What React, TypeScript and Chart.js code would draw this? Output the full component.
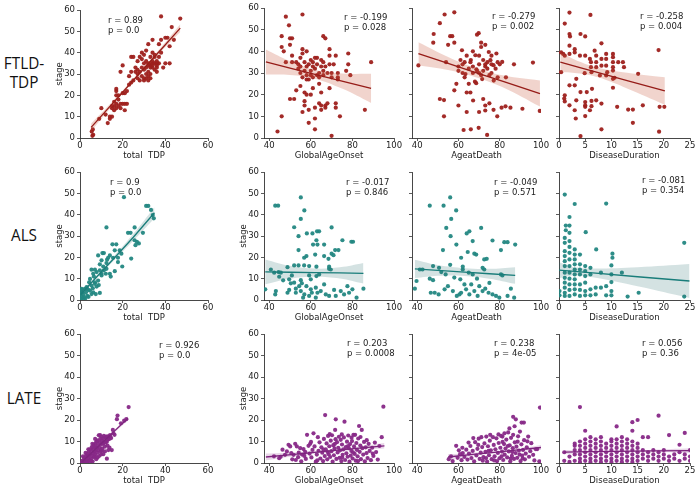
import React, { useEffect, useRef } from "react";
import { Chart, registerables } from "chart.js";

Chart.register(...registerables);

type Pt = [number, number];

// ---------------- DATA ----------------
const rowLabels = [["FTLD-", "TDP"], ["ALS"], ["LATE"]];
const xTitles = ["total  TDP", "GlobalAgeOnset", "AgeatDeath", "DiseaseDuration"];
const yTicks = [0, 10, 20, 30, 40, 50, 60];
const xTicksTDP = [0, 20, 40, 60];
const xTicksAge = [40, 60, 80, 100];
const xTicksDur = [0, 5, 10, 15, 20, 25];

const rValues = [
  ["0.89", "-0.199", "-0.279", "-0.258"],
  ["0.9", "-0.017", "-0.049", "-0.081"],
  ["0.926", "0.203", "0.238", "0.056"],
];
const pValues = [
  ["0.0", "0.028", "0.002", "0.004"],
  ["0.0", "0.846", "0.571", "0.354"],
  ["0.0", "0.0008", "4e-05", "0.36"],
];

// FTLD-TDP
const ftldTDP: Pt[] = [[5.5,3],[6,4],[5.8,1],[6.2,1.5],[9,9],[10,14],[12,11],[13,7],[14,9],[14,10],[15,10],[15,14],[15,15],[16,13],[16,15],[16,17],[17,16],[17,14],[18,15],[17,20],[17,22],[17,23],[18,20],[18,18],[19,14],[19,16],[20,16],[20,21],[21,21],[21,13],[21,16],[22,16],[19,31],[20,34],[22,22],[23,25],[23,29],[24,26],[24,31],[24,38],[25,38],[25,27],[26,31],[26,33],[27,30],[27,32],[27,36],[28,31],[28,27],[28,38],[29,29],[29,33],[29,37],[29,40],[30,27],[30,32],[30,35],[30,39],[31,28],[31,30],[31,33],[31,36],[31,41],[32,29],[32,31],[32,34],[32,35],[32,27],[33,30],[33,34],[33,35],[33,38],[33,28],[34,33],[34,34],[34,36],[34,40],[34,46],[35,32],[35,35],[35,38],[35,39],[36,33],[36,35],[36,34],[36,31],[37,38],[37,35],[37,44],[38,57],[38,40],[38,46],[39,33],[40,35],[40,47],[41,47],[42,35],[42,43],[44,46],[43,52],[47,56],[34,35],[36,36],[30,28],[27,28],[32,44],[33,33]];
const ftldOnset: Pt[] = [[44,3],[46,10],[46,47],[46,42],[47,40],[48,56],[48,35],[49.5,52],[50,46],[51,46],[50,43],[50,18],[51,38],[51,35],[52,18],[53,22],[53,35],[54,34],[54,32],[55,30],[55,24],[55,33],[55,37],[56,57],[56,12],[56,41],[56,39],[56,28],[57,21],[57,17],[57,15],[57,35],[57,31],[58,40],[58,33],[58,27],[58,20],[59,27],[59,13],[59,7],[59,34],[60,31],[60,36],[60,29],[60,20],[61,33],[61,35],[61,23],[62,37],[62,14],[62,9],[62,4],[62,32],[63,34],[63,37],[63,29],[64,25],[64,16],[64,30],[65,33],[65,15],[65,13],[65,21],[65,36],[66,47],[66,29],[66,35],[67,46],[67,15],[67,14],[67,33],[68,16],[68,30],[69,38],[69,41],[69,34],[69,23],[70,30],[70,1],[70,28],[71,34],[72,38],[72,14],[72,16],[73,30],[73,28],[73,27],[74,10],[77,31],[78,39],[78,34],[79,29],[86,13],[89,35],[64,28],[61,28],[66,31],[58,29]];
const ftldDeath: Pt[] = [[40.6,33.5],[47.8,44],[48,48],[51,53],[53.3,57],[51,18],[53,17.5],[53,10],[55,43],[56,47],[57,47],[54,35],[58,58],[58,22],[59,25],[58,44],[60,15],[60,33],[61,36],[61.7,40.5],[62.5,3.7],[62,30],[63,28],[63,35],[63.4,29.5],[64,38],[64,12],[64,21],[65,32],[65.8,35],[66,4],[65.8,21],[67,33],[67.1,17.3],[67,40],[67,30],[68.2,38.2],[68.6,25.3],[68.7,31.7],[69,47.7],[69.8,48.4],[69.8,4.7],[70,12],[70,34],[70,38],[71,42],[71.5,27.2],[71,29],[72,31],[72,18],[73,15],[73,12.7],[73,33],[73.9,1.4],[74.7,39.7],[74,35],[75,29],[75.5,35.9],[75,16],[76,38],[76,30],[77,33.6],[77.1,26.5],[77,13],[78.4,39],[78.8,10],[78,32],[79,35],[80,34],[80.9,14],[81.2,35.1],[82.8,14.6],[83,28],[85.2,14],[86.9,34],[91,13.5],[96.1,34.8],[99.4,12.5],[71,44],[73,43],[76,34],[79,28],[68,26],[66,36],[62,34],[60,31],[65,25],[73,34],[69,31],[72,36],[74,32],[70,30]];
const ftldDuration: Pt[] = [[2,57.9],[6,56.8],[1.1,52.8],[2,48],[2.1,46.9],[4.1,48],[5,46.9],[8.1,43.7],[0.4,39.5],[0.8,38.8],[1.1,38],[2,42.6],[2,38.8],[3,41],[3,39.5],[4,38],[5,38],[5.9,36.5],[6.1,35],[6.1,32.7],[6.2,30.4],[6.8,40.3],[7.1,38],[7.1,35],[7.1,32.7],[8.1,36.5],[8.1,33.4],[9,38.8],[9,36.5],[9,33.4],[9.2,30.4],[10.3,38.8],[10.3,37.3],[10.3,35],[10.3,32.7],[10.3,31.1],[10.3,27.3],[11.3,35],[12.2,35],[12.4,32.7],[15.1,29.6],[7.8,28.9],[9,28.9],[10.6,27.8],[4.9,29.9],[3.3,27.3],[3,24.3],[0.4,30.4],[2,24.3],[4.1,21.2],[5.3,21.2],[6.3,22.7],[1,18.2],[1.1,16.9],[2,15.1],[3.3,17.4],[5,16.6],[5,14.4],[5,15.1],[6.2,17.1],[6.2,14.7],[7.1,17.4],[8.1,15.9],[10.3,23.2],[11.1,14.4],[13.2,13.1],[14.1,13.1],[16,15.1],[19,40.6],[19.2,14.4],[20.1,14.4],[14.1,7],[19.1,2.9],[3,12.8],[5,10.1],[5.9,12.8],[3.2,9],[8.1,4],[4.1,0.9],[1.1,19.7]];

// ALS
const alsTDP: Pt[] = [[20.6,48.2],[31,44.1],[32,44.1],[33.3,42.2],[34.6,38.3],[34.1,39.8],[12.4,34],[25.6,34],[22.5,31.5],[23.7,31.5],[29.5,31.5],[15.2,26.1],[17,26.1],[25.6,28],[26.7,27.2],[27.6,26.5],[26,25.7],[8.5,20.9],[10.5,22],[11.2,22],[18.6,23.3],[16.3,23.3],[14,20.9],[13.2,19.8],[15.5,19.8],[17.8,19.8],[24,19.4],[19.8,15.7],[12.7,18.9],[12.4,17.3],[10.9,15.7],[9.3,16.7],[7,14.2],[5.4,14.2],[7.8,13.1],[9.3,13.9],[10.1,12.3],[12.1,12.3],[14,12.3],[14.4,11],[16.3,13.5],[6.5,11],[4.7,9.9],[7,8.3],[4.3,8.3],[5.4,6.8],[7.8,6.3],[3.1,6],[2.3,5.2],[0.8,5.2],[1.2,3.6],[2.8,3.6],[4.7,4.4],[6.2,3.6],[7.4,2.8],[9.3,3.3],[0,2.8],[0.8,1.6],[1.9,1.3],[3.4,2],[0,0.9],[1.6,0.5],[3.9,4.7],[7,7.6],[8.5,9.1],[10.1,11.5],[11.2,13.9],[12.4,14.6],[6.2,12.3],[3.1,5.2],[0.8,4.7],[0.3,3.6],[5.4,2.8],[10.1,18.6],[17.8,17.8],[19.4,21.7],[0.5,0.3],[2.5,0.8],[4,1.5],[1.5,2.5],[6,5.5],[8.8,7]];
const alsOnset: Pt[] = [[42.9,44.2],[44.3,44.2],[55.2,48.1],[56.9,42],[55.2,38],[52,34.1],[54.1,29.9],[58.1,31.2],[60.8,31.2],[63,32.2],[64,32.2],[70,34],[62.7,28],[63.2,26],[61.1,26],[66.4,26],[54.1,23.4],[56.8,19.8],[57.9,20.6],[62.1,21.3],[66.4,20.6],[68.5,19.3],[70.9,21],[71.7,23.4],[73.3,23.4],[75.2,28],[79.5,27.3],[80.3,27.3],[70,21.7],[48.8,15.4],[52,16.2],[54.1,16.2],[56.8,16.2],[59.2,15.9],[62.7,15.6],[68.8,15.6],[69.6,14.3],[68.8,14.6],[40.8,14.3],[42.4,12.8],[44.5,13.1],[45.6,12.8],[44.8,10.9],[49.6,9.7],[50.4,7.8],[52,8.1],[55.2,9.3],[55.7,7.8],[59.2,11.5],[60,9.7],[62.7,11.2],[64,12],[52.8,5.3],[54.4,6.5],[57.9,6.5],[60,5],[62.4,5.8],[66.4,7.3],[55.2,4.2],[56.9,2.6],[59.2,1.9],[60.5,3.4],[63.2,3.4],[64.8,4.2],[67.2,2.6],[68.8,1.9],[72,1.9],[74.4,4.2],[76,2.6],[78.4,3.4],[80,5],[82,1.1],[85.3,5.3],[38.1,5],[42.9,2.6],[43.2,4.2],[48.8,3.4],[52.8,3.4],[56.3,1.1],[62.4,1.1],[49.6,4.7],[71.2,4.7],[50.9,11.5],[46.7,9.2],[77.6,6.5]];
const alsDeath: Pt[] = [[38.9,5.3],[46.1,44.2],[52.8,44.2],[56,48.1],[58.9,42],[56.5,38],[54.1,33.8],[56.2,29.9],[52.5,23.4],[50.6,15.1],[47.7,15.9],[41.3,14.3],[42.6,14.3],[39.7,8.9],[46.1,10],[47.7,9.3],[51.7,13.1],[53.8,12],[46.6,3.4],[48.5,3.4],[50.4,2.6],[53.3,5],[54.9,6.5],[57.3,4.2],[59.2,1.9],[60.5,2.6],[62.1,15.6],[71,33.8],[64,31.2],[65.3,32.2],[66.9,27.6],[67.7,21.7],[68.6,21.3],[72.5,19],[73.7,19.3],[76.5,27.9],[80.6,23.4],[82.2,27.1],[83.8,27.1],[87.5,26],[71.7,15.1],[72.5,14.3],[65,12.8],[66.9,12],[80.6,12],[81.3,11.5],[61.3,19.8],[62.1,14.3],[60.9,9.7],[62.9,7.3],[66.2,7.3],[70.1,6.5],[63.7,5],[67.7,4.2],[71.7,4.2],[74.6,3.4],[76.5,2.6],[78.2,1.9],[79.8,1.1],[85.4,5.3],[83.8,1.9],[87,1.1],[65.3,2.6],[69.3,1.9],[61.3,3.4],[73,5.3],[58,10.5],[56,16.5],[69,10],[75,8],[64.5,22.5],[59,26]];
const alsDuration: Pt[] = [[1.1,49.4],[1.3,32.7],[1.3,34.9],[2,38.9],[2,34.9],[3,45],[9,45.2],[5.1,31.8],[7.1,23.7],[10.2,21.7],[10.2,19.8],[23.9,26.8],[1.1,29.1],[1.1,26.8],[1.1,22.9],[1.1,20.6],[1.1,18.2],[1.1,15.9],[1.1,12.8],[1.1,10.4],[1.1,8.1],[1.1,5.8],[1.1,3.4],[1.1,1.9],[2,31.5],[2,27.6],[2,24.9],[2,22.1],[2,19],[2,15.9],[2,12.8],[2,10],[2,7.3],[2,4.7],[2,1.9],[3,23.7],[3,21.3],[3,19],[3,16.7],[3,14.3],[3,12],[3,9.7],[3,7.3],[3,5],[3,2.6],[4,21.3],[4,16.7],[4,14.3],[4,12],[4,7.3],[4,4.7],[4,1.9],[5,15.9],[5,13.6],[5,11.2],[5,8.1],[5,4.2],[5,2.2],[6,15.1],[6,12],[6,5],[6,2.2],[7,5.8],[7,2.6],[8,12.8],[8,5.8],[9,6.5],[9,2.2],[10,16.2],[10,12],[10,8.4],[10,4.2],[10,2.2],[12,12.8],[13.1,1.6],[15.2,3.4],[23.9,1.6],[0.1,4.2],[0.1,2.2]];

// LATE
const lateTDP: Pt[] = [[0.8,0.3],[1.2,1.1],[1.6,0.4],[1.9,2.3],[2.3,1.4],[2.4,0.6],[2.8,3.2],[3.1,1.9],[3.3,4.1],[3.5,0.9],[3.7,2.8],[4.1,5.2],[4.2,3.4],[4.4,1.3],[4.6,6.3],[4.9,4.2],[5.1,2.1],[5.3,5.6],[5.5,7.4],[5.6,3.3],[5.9,0.8],[6.1,6.6],[6.2,4.6],[6.4,8.4],[6.5,2.7],[6.8,5.3],[6.9,7.6],[7.1,3.9],[7.3,9.1],[7.4,6.1],[7.6,1.8],[7.8,9.9],[7.9,7.2],[8.1,4.8],[8.3,10.5],[8.4,8.1],[8.6,5.9],[8.8,12.9],[8.9,3.2],[9.1,9.4],[9.2,7.1],[9.4,13],[9.5,11.2],[9.7,5.4],[9.9,8.6],[10.1,10.4],[10.2,12.1],[10.4,6.7],[10.6,9.2],[10.8,11.5],[10.9,4.1],[11,9.1],[11.2,12.6],[11.4,10.1],[11.6,7.6],[11.8,11.9],[12.1,9.6],[12.3,12.3],[12.6,9.9],[12.6,2],[12.8,10.9],[13.1,12.4],[13.3,6],[13.3,12.2],[13.6,11.1],[14.1,13],[14.2,12.1],[14.9,6],[14.6,11.6],[15.4,15.4],[15.7,13.8],[16.2,13.1],[17.3,20.4],[17.6,22.1],[19.2,18.5],[20.7,19.7],[21.7,20.4],[22.8,26],[7.8,9.9],[6.3,7.5],[5.2,1.1],[6.9,3.1],[8.2,2.6],[10.3,5.8],[11.7,5.4],[3.9,6.4],[2.6,4.7],[1.4,3.1],[5.8,8.9],[7.1,11.2],[12.9,8.1],[13.8,7.2],[4.7,0.6],[3.2,0.3],[9.8,3.9]];
const lateOnset: Pt[] = [[42.3,3.1],[44.8,2.2],[45.5,2.9],[46.4,6.2],[48.5,5.4],[49.3,8.5],[50.1,7.7],[50.6,4.6],[51.7,3.8],[52.5,8.9],[53.3,7.7],[52.8,1.4],[53.9,2.7],[54.9,6.9],[55.4,0.8],[56.5,6.5],[56.9,3.3],[57.6,1.9],[58.2,13.1],[58.9,8],[59.7,8.9],[59.4,4.4],[60.3,2.6],[60.8,6.1],[61.3,13.8],[61.8,7.7],[62.4,0.6],[62.9,3.9],[63.4,12],[63.7,5.7],[64.2,9.6],[64.6,2.1],[65.1,7.3],[65.5,4.8],[65.9,0.9],[66.3,11.2],[66.7,3.2],[66.9,22.3],[67.2,6.4],[67.6,9.1],[67.9,1.7],[68.3,12.6],[68.6,4.1],[68.9,7.8],[69.3,2.8],[69.6,10.4],[69.9,5.5],[70.2,12.9],[70.5,0.7],[70.8,8.3],[71.1,3.6],[71.4,6.8],[71.7,15.4],[71.9,11.1],[72,20.3],[72.3,1.9],[72.6,9.7],[72.9,4.9],[73.2,7.1],[73.5,12.2],[73.8,2.4],[74.1,5.9],[74.4,10.8],[74.7,0.9],[75,8.6],[75.3,3.8],[75.6,6.3],[75.9,11.9],[76.2,19.2],[76.5,1.4],[76.8,7.4],[77.1,4.5],[77.4,9.9],[77.7,2.9],[78,12.8],[78.3,6.9],[78.6,0.6],[78.9,8.8],[79.2,3.4],[79.5,5.6],[79.8,10.2],[80.1,2.1],[80.5,13.1],[80.8,7.7],[81.1,4.2],[81.3,13.1],[81.6,1.1],[81.9,9.3],[82.2,6.1],[82.5,3.1],[82.8,11.4],[83.2,17.2],[83.5,5.2],[83.8,8.1],[84.1,1.8],[84.5,15.4],[84.8,6.9],[85.2,3.9],[85.6,9.8],[86,0.8],[86.4,7.3],[86.8,4.6],[87.3,2.3],[87.8,8.9],[88.3,5.6],[88.9,1.3],[89.5,7.1],[90.1,3.3],[90.8,9.5],[91.4,5.1],[92.2,1.6],[93,7.9],[94.1,12],[94.9,26.2],[60.1,9.8],[57.3,5.2],[55.8,3.9],[54.2,4.8],[51.1,1.7],[47.6,3.8],[63.1,1.2],[66.1,6.2],[69.1,13.4],[71.6,8.9],[74.9,13.3],[77.9,7.9],[80.3,4.9],[83.9,12.1],[86.9,10.6],[89.8,4.4],[68.1,5.1],[75.1,2.6],[79.6,11.8],[82.7,0.9]];
const lateDeath: Pt[] = [[55.3,1.8],[56.4,3.1],[57.2,0.9],[58.9,8],[59.6,2.4],[60.8,4.1],[61.5,1.3],[62.1,4.6],[62.9,2.8],[63.8,6.2],[64.4,1.6],[65.1,4.4],[65.8,7.9],[66.3,2.3],[66.9,5.6],[67.6,0.8],[68.1,9.7],[68.7,3.5],[69.2,6.6],[69.8,11.3],[70.3,1.9],[70.8,4.8],[71.1,12],[71.5,7.4],[72.1,2.7],[72.6,9.1],[73.1,5.2],[73.5,12.3],[73.9,0.7],[74.3,7.8],[74.8,3.6],[75.2,10.4],[75.7,5.9],[76.1,1.8],[76.7,12],[77.1,8.4],[77.5,3.1],[77.9,6.4],[78.4,11.5],[78.7,0.9],[79.1,4.7],[79.5,9.3],[79.9,2.2],[80.3,7.1],[80.7,12.6],[81.1,5.3],[81.3,12.3],[81.7,1.4],[82.1,8.8],[82.4,3.9],[82.8,6.7],[83.2,10.9],[83.6,2.6],[84.1,14.2],[84.4,5.4],[84.8,8.2],[85.1,0.8],[85.5,11.7],[85.9,3.3],[86.3,6.9],[86.5,13.1],[86.5,21.5],[86.9,1.9],[87.3,9.6],[87.8,20.3],[87.7,4.6],[88.1,7.6],[88.5,2.4],[88.9,12.4],[89.3,5.8],[89.8,14.6],[90.1,0.9],[90.6,18.8],[90.5,8.7],[90.9,3.5],[91.3,6.1],[91.7,18.8],[91.8,10.6],[92.2,1.7],[92.6,4.4],[93.1,7.3],[93.8,12.3],[94.2,2.9],[94.8,5.5],[95.3,9.2],[96.2,3.8],[96.8,1.2],[97.5,6.4],[98.2,6.5],[99.2,0.8],[99.5,25.8],[71.8,1.1],[74.6,5.7],[80.9,3.1],[83.9,7.9],[86.1,5.1],[88.7,9.9],[91.1,2.1],[93.4,10.1],[84.7,16.1],[82.3,13.8],[79.4,13.3],[75.4,13.1],[87.2,17.1],[89.6,3.9],[85.3,2.1],[81.4,9.8],[77.3,1.2],[73.4,2.3],[69.6,8.4],[67.2,11.6],[64.9,9.5],[61.9,7.1],[60.2,5.9]];
const lateDuration: Pt[] = [[1,1],[1,5],[2,0.5],[2,3],[3,1],[3,4],[3,6],[3,8],[3,9],[4,0.5],[4,2],[4,4],[4,6],[4,8],[4,10],[4,26],[5,1],[5,3],[5,5],[5,7],[5,9],[5,11],[5,15],[6,0.5],[6,2],[6,4],[6,6],[6,8],[6,10],[6,12],[7,1],[7,3],[7,5],[7,7],[7,9],[7,11],[8,0.5],[8,2],[8,4],[8,6],[8,8],[8,10],[8,12],[9,1],[9,3],[9,5],[9,7],[9,9],[10,0.5],[10,2],[10,4],[10,6],[10,8],[10,10],[10,11],[11,1],[11,3],[11,5],[11,7],[11,9],[11,11],[11,17],[12,0.5],[12,2],[12,4],[12,6],[12,8],[12,10],[12,12],[13,1],[13,3],[13,5],[13,7],[13,9],[13,11],[14,0.5],[14,2],[14,4],[14,6],[14,8],[14,10],[14,15],[14,19],[15,1],[15,3],[15,5],[15,7],[15,9],[15,20],[16,2],[16,4],[16,6],[16,12],[17,1],[17,3],[17,5],[17,12],[18,2],[18,4],[18,6],[19,1],[19,3],[19,5],[19,22],[20,2],[20,4],[20,6],[21,1],[21,3],[21,13],[22,2],[22,4],[23,1],[23,5],[23,8.5],[24,2],[24,4],[24,14],[25,1],[25,3],[25,6]];

// Regression fits (line + 95% CI band)
const fitFtldTDP = { x: [5.2, 15, 27, 38, 47], mid: [5, 15.9, 29.3, 41.5, 51.5], lo: [3.2, 14.9, 28.6, 40.5, 49.7], hi: [6.8, 16.9, 30.0, 42.5, 53.3] };
const fitFtldOnset = { x: [38.4, 50, 62, 75, 89], mid: [35.1, 32.3, 29.4, 26.3, 22.9], lo: [29.3, 29.1, 27.4, 22.8, 16.2], hi: [40.9, 35.5, 31.4, 29.8, 29.6] };
const fitFtldDeath = { x: [40.6, 55, 68, 82, 99.5], mid: [38.9, 34.4, 30.3, 26.0, 20.5], lo: [33.6, 31.4, 28.2, 23.2, 14.5], hi: [44.2, 37.4, 32.4, 28.8, 26.5] };
const fitFtldDuration = { x: [0.25, 4, 7.5, 13, 20.2], mid: [35, 32.5, 30.2, 26.5, 21.7], lo: [30.5, 29.8, 28, 22.9, 15.4], hi: [39.5, 35.2, 32.4, 30.1, 28] };
const fitAlsTDP = { x: [0.3, 8, 16, 25, 34.9], mid: [2.6, 11, 19.6, 29.4, 40.9], lo: [1.4, 10.2, 18.6, 27.8, 38.3], hi: [3.8, 11.8, 20.6, 31, 43.5] };
const fitAlsOnset = { x: [38.1, 50, 62, 74, 85.3], mid: [13.2, 13.0, 12.85, 12.7, 12.5], lo: [7.4, 10, 10.95, 10.1, 7.7], hi: [19, 16, 14.75, 15.3, 17.3] };
const fitAlsDeath = { x: [38.9, 50, 63, 75, 87.5], mid: [14.6, 13.9, 13.1, 12.3, 11.5], lo: [10.3, 11.4, 11.3, 10, 7.6], hi: [18.9, 16.4, 14.9, 14.6, 15.4] };
const fitAlsDuration = { x: [0, 3, 7, 15, 24.9], mid: [14, 13.4, 12.6, 10.9, 8.9], lo: [10.3, 11.5, 10.4, 6.4, 0.9], hi: [17.7, 15.3, 14.8, 15.4, 16.9] };
const fitLateTDP = { x: [1, 6, 10, 16, 22.5], mid: [0.6, 5.3, 9.1, 14.7, 20.8], lo: [0.1, 5.0, 8.75, 14.1, 19.8], hi: [1.1, 5.6, 9.45, 15.3, 21.8] };
const fitLateOnset = { x: [38.4, 52, 68, 82, 95.4], mid: [2.8, 4.0, 5.5, 6.8, 8.0], lo: [1.2, 3.1, 5, 6.1, 6.7], hi: [4.4, 4.9, 6, 7.5, 9.3] };
const fitLateDeath = { x: [55, 67, 80, 90, 100], mid: [2.8, 4.0, 5.2, 6.2, 7.2], lo: [1.5, 3.3, 4.75, 5.6, 6.0], hi: [4.1, 4.7, 5.65, 6.8, 8.4] };
const fitLateDuration = { x: [1, 6, 11, 18, 25], mid: [5.1, 5.25, 5.4, 5.6, 5.8], lo: [4.1, 4.75, 5.0, 5.0, 4.7], hi: [6.1, 5.75, 5.8, 6.2, 6.9] };

// ---------------- STYLE / LAYOUT ----------------
const FONT = "'DejaVu Sans', sans-serif";
const TEXT = "#222222";
const AXIS = "#333333";
const rowColors = [
  { pt: "rgba(158,32,28,0.95)", line: "rgb(150,28,24)", band: "rgba(200,85,55,0.25)" },
  { pt: "rgba(35,135,130,0.95)", line: "rgb(25,125,122)", band: "rgba(40,110,110,0.2)" },
  { pt: "rgba(135,40,135,0.95)", line: "rgb(125,35,125)", band: "rgba(140,50,140,0.2)" },
];
const colGeom = [
  { L: 80, R: 208 },
  { L: 264, R: 394 },
  { L: 412, R: 541 },
  { L: 559, R: 690 },
];
const rowGeom = [
  { T: 8, B: 138 },
  { T: 172, B: 300 },
  { T: 334, B: 463 },
];
const textPos = [
  [[108, 20], [344, 17], [492, 16], [640, 16]],
  [[110, 182], [346, 182], [494, 182], [642, 180]],
  [[159, 345], [347, 343], [494, 343], [642, 343]],
];
const rowLabelY = [62, 234, 397.5];

const pointSets: Pt[][][] = [
  [ftldTDP, ftldOnset, ftldDeath, ftldDuration],
  [alsTDP, alsOnset, alsDeath, alsDuration],
  [lateTDP, lateOnset, lateDeath, lateDuration],
];
const fitSets = [
  [fitFtldTDP, fitFtldOnset, fitFtldDeath, fitFtldDuration],
  [fitAlsTDP, fitAlsOnset, fitAlsDeath, fitAlsDuration],
  [fitLateTDP, fitLateOnset, fitLateDeath, fitLateDuration],
];
const xRanges = [
  { min: 0, max: 60, ticks: xTicksTDP },
  { min: 37.5, max: 100, ticks: xTicksAge },
  { min: 37.5, max: 100, ticks: xTicksAge },
  { min: 0, max: 25, ticks: xTicksDur },
];

const PAD_T = 8;
const PAD_R = 12;
const PAD_B = 23;

function Panel({ row, col }: { row: number; col: number }) {
  const ref = useRef<HTMLCanvasElement>(null);
  const g = colGeom[col];
  const rg = rowGeom[row];
  const T = row === 0 && col === 0 ? 10 : rg.T;
  const padL = col < 2 ? 30 : 18;
  const w = padL + (g.R - g.L) + PAD_R;
  const h = PAD_T + (rg.B - T) + PAD_B;
  const left = g.L - padL;
  const top = T - PAD_T;

  useEffect(() => {
    const c = rowColors[row];
    const pts = pointSets[row][col];
    const fit = fitSets[row][col];
    const xr = xRanges[col];
    const showYLabels = col < 2;
    const showYTitle = col === 0 || (col === 1 && row > 0);
    const tickFont = { family: FONT, size: 8.5 };
    const chart = new Chart(ref.current as HTMLCanvasElement, {
      type: "scatter",
      data: {
        datasets: [
          {
            type: "line",
            data: fit.x.map((x, i) => ({ x, y: fit.mid[i] })),
            borderColor: c.line,
            borderWidth: 1.3,
            pointRadius: 0,
            fill: false,
          },
          {
            type: "line",
            data: fit.x.map((x, i) => ({ x, y: fit.hi[i] })),
            borderWidth: 0,
            borderColor: "rgba(0,0,0,0)",
            pointRadius: 0,
            tension: 0.4,
            fill: false,
          },
          {
            type: "line",
            data: fit.x.map((x, i) => ({ x, y: fit.lo[i] })),
            borderWidth: 0,
            borderColor: "rgba(0,0,0,0)",
            backgroundColor: c.band,
            pointRadius: 0,
            tension: 0.4,
            fill: "-1",
          },
          {
            type: "scatter",
            data: pts.map(([x, y]) => ({ x, y })),
            backgroundColor: c.pt,
            borderWidth: 0,
            pointRadius: 2.1,
          },
        ],
      } as any,
      options: {
        responsive: false,
        animation: false,
        devicePixelRatio: 1,
        events: [],
        layout: { padding: { left: 0, right: PAD_R, top: PAD_T, bottom: 0 } },
        plugins: { legend: { display: false }, tooltip: { enabled: false } },
        scales: {
          x: {
            type: "linear",
            position: "bottom",
            min: xr.min,
            max: xr.max,
            afterBuildTicks: (s: any) => {
              s.ticks = xr.ticks.map((v) => ({ value: v }));
            },
            afterFit: (s: any) => {
              s.height = PAD_B;
            },
            grid: { display: true, drawOnChartArea: false, drawTicks: true, tickLength: 3, color: AXIS, lineWidth: 0.8 },
            border: { display: true, color: AXIS, width: 0.9 },
            ticks: { font: tickFont, color: TEXT, padding: 0, maxRotation: 0, autoSkip: false },
            title: { display: true, text: xTitles[col], font: tickFont, color: TEXT, padding: { top: 0, bottom: 0 } },
          },
          y: {
            type: "linear",
            position: "left",
            min: 0,
            max: 60,
            afterBuildTicks: (s: any) => {
              s.ticks = yTicks.map((v) => ({ value: v }));
            },
            afterFit: (s: any) => {
              s.width = padL;
            },
            grid: { display: true, drawOnChartArea: false, drawTicks: true, tickLength: 3, color: AXIS, lineWidth: 0.8 },
            border: { display: true, color: AXIS, width: 0.9 },
            ticks: { display: showYLabels, font: tickFont, color: TEXT, padding: 2, autoSkip: false },
            title: { display: showYTitle, text: "stage", font: tickFont, color: TEXT, padding: { top: 5, bottom: 0 } },
          },
        },
      } as any,
    });
    return () => chart.destroy();
  }, [row, col]);

  return (
    <canvas
      ref={ref}
      width={w}
      height={h}
      style={{ position: "absolute", left, top, width: w, height: h }}
    />
  );
}

export default function App() {
  const panels: React.ReactNode[] = [];
  const texts: React.ReactNode[] = [];
  for (let r = 0; r < 3; r++) {
    for (let c = 0; c < 4; c++) {
      panels.push(<Panel key={`p${r}${c}`} row={r} col={c} />);
      const [tx, ty] = textPos[r][c];
      texts.push(
        <div
          key={`t${r}${c}`}
          style={{
            position: "absolute",
            left: tx,
            top: ty - 5.25,
            fontFamily: FONT,
            fontSize: 8.5,
            lineHeight: "10.5px",
            color: TEXT,
            whiteSpace: "pre",
          }}
        >
          {`r = ${rValues[r][c]}\np = ${pValues[r][c]}`}
        </div>
      );
    }
  }
  return (
    <div
      style={{
        position: "fixed",
        left: 0,
        top: 0,
        width: 700,
        height: 491,
        background: "#ffffff",
        overflow: "hidden",
      }}
    >
      {rowLabels.map((lines, i) => (
        <div
          key={`rl${i}`}
          style={{
            position: "absolute",
            left: 0,
            width: 48,
            top: rowLabelY[i] - 9.5,
            textAlign: "center",
            fontFamily: "'Open Sans', sans-serif",
            fontSize: 17,
            lineHeight: "19px",
            color: "#111",
            transform: "scaleX(0.9)",
            transformOrigin: "24px 0",
          }}
        >
          {lines.map((l, j) => (
            <div key={j}>{l}</div>
          ))}
        </div>
      ))}
      {panels}
      {texts}
    </div>
  );
}
